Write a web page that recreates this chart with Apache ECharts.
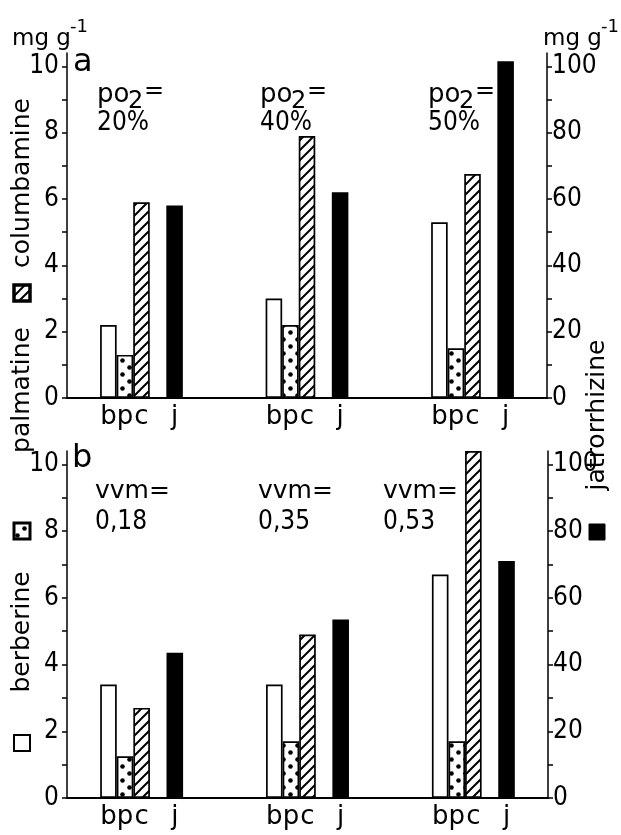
<!DOCTYPE html>
<html><head><meta charset="utf-8">
<script src="https://cdn.jsdelivr.net/npm/echarts@6/dist/echarts.min.js"></script>
<style>html,body{margin:0;padding:0;background:#fff}#c{width:621px;height:835px}</style>
</head><body><div id="c"></div>
<script>
// ---- data ----
const barLabels = ['b', 'p', 'c', 'j'];
const conditionsA = ['20%', '40%', '50%'];        // po2
const berberineA = [2.2, 3.0, 5.3];
const palmatineA = [1.3, 2.2, 1.5];
const columbamineA = [5.9, 7.9, 6.75];
const jatrorrhizineA = [58, 62, 101.5];          // right axis
const conditionsB = ['0,18', '0,35', '0,53'];     // vvm
const berberineB = [3.4, 3.4, 6.7];
const palmatineB = [1.25, 1.7, 1.7];
const columbamineB = [2.7, 4.9, 10.4];
const jatrorrhizineB = [43.5, 53.5, 71];         // right axis
const leftTicks = [0, 2, 4, 6, 8, 10];
const rightTicks = [0, 20, 40, 60, 80, 100];

// ---- layout of category slots ----
const SLOTS = 29, groupStart = [2, 12, 22], offsets = [0, 1, 2, 4];
const cats = new Array(SLOTS).fill('');
groupStart.forEach(g => offsets.forEach((o, k) => { cats[g + o] = barLabels[k]; }));
function slotData(vals, k) {
  const arr = new Array(SLOTS).fill(null);
  vals.forEach((v, i) => { arr[groupStart[i] + offsets[k]] = v; });
  return arr;
}

// ---- patterns ----
function hatch() {
  const c = document.createElement('canvas'); c.width = 10; c.height = 10;
  const g = c.getContext('2d');
  g.fillStyle = '#fff'; g.fillRect(0, 0, 10, 10);
  g.strokeStyle = '#000'; g.lineWidth = 2; g.beginPath();
  g.moveTo(-2, 12); g.lineTo(12, -2);
  g.moveTo(-2, 2); g.lineTo(2, -2);
  g.moveTo(8, 12); g.lineTo(12, 8);
  g.stroke(); return c;
}
function dots() {
  const c = document.createElement('canvas'); c.width = 14; c.height = 14;
  const g = c.getContext('2d');
  g.fillStyle = '#fff'; g.fillRect(0, 0, 14, 14);
  g.fillStyle = '#000';
  [[3.5, 3.5], [10.5, 10.5]].forEach(p => { g.beginPath(); g.arc(p[0], p[1], 2.3, 0, Math.PI * 2); g.fill(); });
  return c;
}
const hatchFill = { image: hatch(), repeat: 'repeat' };
const dotFill = { image: dots(), repeat: 'repeat' };

const FONT = "'DejaVu Sans Condensed', 'Liberation Sans Narrow', 'DejaVu Sans', sans-serif";
const FONT2 = "'DejaVu Sans', sans-serif";

const grids = [
  { left: 67, right: 74, top: 53, height: 345 },
  { left: 67, right: 73, top: 451, height: 347 }
];
const xAxes = [0, 1].map(i => ({
  type: 'category', gridIndex: i, data: cats,
  axisLine: { lineStyle: { color: '#000', width: 2 } },
  axisTick: { show: false },
  axisLabel: { interval: 0, color: '#000', fontSize: 26, fontFamily: FONT2, margin: 6 },
  splitLine: { show: false }
}));
function leftAxis(i) {
  return {
    type: 'value', gridIndex: i, position: 'left', min: 0, max: 10.4, interval: 1,
    axisLine: { show: true, lineStyle: { color: '#000', width: 1.5 } },
    axisTick: { show: true, length: 5, customValues: [0,1,2,3,4,5,6,7,8,9,10], lineStyle: { color: '#000', width: 1.5 } },
    axisLabel: { customValues: leftTicks, color: '#000', fontSize: 26, fontFamily: FONT, margin: 8 },
    splitLine: { show: false }
  };
}
function rightAxis(i) {
  return {
    type: 'value', gridIndex: i, position: 'right', min: 0, max: 104, interval: 10,
    axisLine: { show: true, lineStyle: { color: '#000', width: 1.5 } },
    axisTick: { show: true, length: 5, customValues: [0,10,20,30,40,50,60,70,80,90,100], lineStyle: { color: '#000', width: 1.5 } },
    axisLabel: { customValues: rightTicks, color: '#000', fontSize: 26, fontFamily: FONT, margin: 5 },
    splitLine: { show: false }
  };
}
const yAxes = [leftAxis(0), rightAxis(0), leftAxis(1), rightAxis(1)];

const panels = [
  [berberineA, palmatineA, columbamineA, jatrorrhizineA],
  [berberineB, palmatineB, columbamineB, jatrorrhizineB]
];
const fills = ['#fff', dotFill, hatchFill, '#000'];
const names = ['berberine', 'palmatine', 'columbamine', 'jatrorrhizine'];
const series = [];
panels.forEach((p, i) => {
  p.forEach((vals, k) => {
    series.push({
      name: names[k], type: 'bar', xAxisIndex: i, yAxisIndex: i * 2 + (k === 3 ? 1 : 0),
      data: slotData(vals, k), barGap: '-100%', barCategoryGap: '0%',
      itemStyle: { color: fills[k], borderColor: '#000', borderWidth: 1.7 },
      clip: false, silent: true
    });
  });
});

// ---- annotations ----
const T = (x, y, text, size, extra) => ({
  type: 'text', x, y, style: Object.assign({ text, fill: '#000', fontSize: size, fontFamily: FONT2 }, extra || {})
});
const graphic = [];
[[12, 28], [543, 28]].forEach(p => {
  graphic.push(T(p[0], p[1], 'mg g', 23));
  graphic.push(T(p[0] + 58, p[1] - 10, '-1', 18));
});
graphic.push(T(73, 47, 'a', 32));
graphic.push(T(72, 443, 'b', 32));
const condX = [97, 260, 428];
conditionsA.forEach((c, i) => {
  graphic.push(T(condX[i], 82, 'po', 26));
  graphic.push(T(condX[i] + 31, 90, '2', 24));
  graphic.push(T(condX[i] + 47, 80, '=', 24));
  graphic.push(T(condX[i], 110, c, 26, { fontFamily: FONT }));
});
const vvmX = [95, 258, 383];
conditionsB.forEach((c, i) => {
  graphic.push(T(vvmX[i], 479, 'vvm=', 25));
  graphic.push(T(vvmX[i], 509, c, 26, { fontFamily: FONT }));
});
const R = (x, y, text) => ({
  type: 'text', x, y, rotation: Math.PI / 2,
  style: { text, fill: '#000', fontSize: 25, fontFamily: FONT2, align: 'center', verticalAlign: 'middle' }
});
graphic.push(R(22, 183, 'columbamine'));
graphic.push(R(22, 390, 'palmatine'));
graphic.push(R(22, 632, 'berberine'));
graphic.push(R(597, 415, 'jatrorrhizine'));
const B = (cx, cy, fill, lw) => ({
  type: 'rect', shape: { x: cx - 8, y: cy - 8, width: 16, height: 16 },
  style: { fill, stroke: '#000', lineWidth: lw }
});
graphic.push(B(22, 293, hatchFill, 3.5));
graphic.push(B(22, 531, dotFill, 3));
graphic.push(B(22, 743, '#fff', 2));
graphic.push(B(597, 532, '#000', 1));

const chart = echarts.init(document.getElementById('c'), null, { renderer: 'canvas' });
chart.setOption({
  animation: false, backgroundColor: '#fff',
  grid: grids, xAxis: xAxes, yAxis: yAxes, series, graphic
});
</script></body></html>
